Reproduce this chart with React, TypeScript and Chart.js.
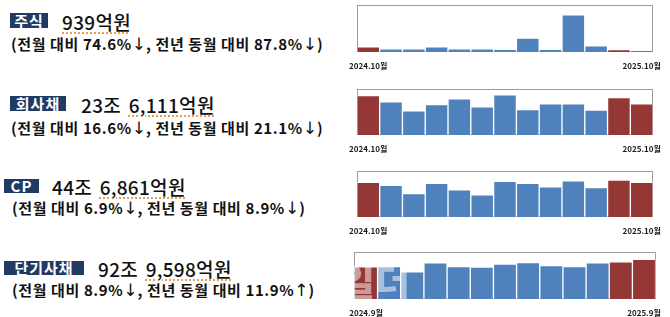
import React, { useEffect, useRef } from 'react';
import { Chart, registerables } from 'chart.js';

Chart.register(...registerables);

// ---- data ----
const monthsOct = ['2024.10월', '2024.11월', '2024.12월', '2025.1월', '2025.2월', '2025.3월', '2025.4월', '2025.5월', '2025.6월', '2025.7월', '2025.8월', '2025.9월', '2025.10월'];
const monthsSep = ['2024.9월', '2024.10월', '2024.11월', '2024.12월', '2025.1월', '2025.2월', '2025.3월', '2025.4월', '2025.5월', '2025.6월', '2025.7월', '2025.8월', '2025.9월'];

// 억원
const stockValues = [7697, 4900, 4900, 7800, 4900, 4900, 3900, 20600, 3900, 55400, 9300, 3697, 939];
const corpBondValues = [299254, 251200, 183400, 231100, 273800, 213500, 304000, 193400, 236100, 236100, 188400, 283107, 236111];
const cpValues = [447000, 408600, 302200, 434100, 349000, 285200, 459600, 434100, 387300, 463900, 378800, 474000, 446861];
const stbValues = [753000, 760600, 637700, 845100, 760600, 745300, 814400, 852800, 783700, 760600, 845100, 868200, 929598];

const highlightIndex = [0, 11, 12];

const stockMax = 70000;
const corpBondMax = 349000;
const cpMax = 592000;
const stbMax = 1100000;

const BLUE = '#4F81BD';
const RED = '#953735';
const FONT = '"Noto Sans CJK KR", "Noto Sans", sans-serif';

const framePlugin = {
  id: 'frameBox',
  beforeDatasetsDraw(chart: any) {
    const { ctx, chartArea: a } = chart;
    ctx.save();
    ctx.strokeStyle = '#9c9c9c';
    ctx.lineWidth = 1;
    const l = Math.round(a.left) + 0.5;
    const t = Math.round(a.top) + 0.5;
    const r = Math.round(a.right) - 0.5;
    const b = Math.round(a.bottom) - 0.5;
    ctx.strokeRect(l, t, r - l, b - t);
    ctx.restore();
  },
};

type MiniProps = {
  top: number;
  frameTop: number;
  frameBottom: number;
  labels: string[];
  values: number[];
  max: number;
};

const AXIS_H = 18;

function MiniBar({ top, frameTop, frameBottom, labels, values, max }: MiniProps) {
  const ref = useRef<HTMLCanvasElement>(null);
  const height = frameBottom - top + AXIS_H;
  useEffect(() => {
    if (!ref.current) return;
    const colors = values.map((_, i) => (highlightIndex.includes(i) ? RED : BLUE));
    const chart = new Chart(ref.current, {
      type: 'bar',
      data: {
        labels,
        datasets: [
          {
            data: values,
            backgroundColor: colors,
            borderColor: 'rgba(255,255,255,0.55)',
            borderWidth: 1,
            categoryPercentage: 1,
            barPercentage: 1,
          },
        ],
      },
      options: {
        responsive: false,
        animation: false,
        devicePixelRatio: 1,
        layout: { padding: { left: 13, right: 7, top: frameTop - top, bottom: 0 } },
        plugins: { legend: { display: false }, tooltip: { enabled: false } },
        scales: {
          x: {
            grid: { display: false, drawTicks: false },
            border: { display: false },
            afterFit: (scale: any) => {
              scale.height = AXIS_H;
            },
            ticks: {
              autoSkip: false,
              maxRotation: 0,
              minRotation: 0,
              padding: 9,
              color: '#1a1a1a',
              font: { family: FONT, size: 8, weight: 'bold' },
              callback: (_v: any, i: number) => (i === 0 || i === labels.length - 1 ? labels[i] : ''),
            },
          },
          y: { display: false, min: 0, max },
        },
      },
      plugins: [framePlugin],
    });
    return () => chart.destroy();
  }, []);
  return (
    <canvas
      ref={ref}
      width={330}
      height={height}
      style={{ position: 'absolute', left: 340, top, width: 330, height }}
    />
  );
}

type PanelText = {
  tag: string;
  tagLeft: number;
  tagTop: number;
  tagW: number;
  tagH: number;
  prefix: string;
  amount: string;
  numLeft: number;
  numCenter: number;
  sub: string;
  subLeft: number;
  subCenter: number;
};

const panels: PanelText[] = [
  { tag: '주식', tagLeft: 10, tagTop: 13, tagW: 38, tagH: 15, prefix: '', amount: '939억원', numLeft: 62, numCenter: 21.5, sub: '(전월 대비 74.6%↓, 전년 동월 대비 87.8%↓)', subLeft: 11, subCenter: 44 },
  { tag: '회사채', tagLeft: 10, tagTop: 96, tagW: 56, tagH: 15, prefix: '23조 ', amount: '6,111억원', numLeft: 81, numCenter: 105, sub: '(전월 대비 16.6%↓, 전년 동월 대비 21.1%↓)', subLeft: 11, subCenter: 127.5 },
  { tag: 'CP', tagLeft: 4, tagTop: 179, tagW: 35, tagH: 14, prefix: '44조 ', amount: '6,861억원', numLeft: 52, numCenter: 186.5, sub: '(전월 대비 6.9%↓, 전년 동월 대비 8.9%↓)', subLeft: 12, subCenter: 208 },
  { tag: '단기사채', tagLeft: 4, tagTop: 261, tagW: 80, tagH: 14, prefix: '92조 ', amount: '9,598억원', numLeft: 98, numCenter: 268.5, sub: '(전월 대비 8.9%↓, 전년 동월 대비 11.9%↑)', subLeft: 12, subCenter: 290 },
];

function renderSub(s: string) {
  return s.split(/([↓↑])/).map((part, i) =>
    part === '↓' || part === '↑' ? (
      <span key={i} style={{ fontWeight: 400, fontFamily: '"DejaVu Sans", sans-serif', fontSize: 17, letterSpacing: 0 }}>{part}</span>
    ) : (
      <React.Fragment key={i}>{part}</React.Fragment>
    )
  );
}

export default function App() {
  return (
    <div style={{ position: 'absolute', left: 0, top: 0, width: 670, height: 317, background: '#fff', overflow: 'hidden', fontFamily: FONT }}>
      {panels.map((p, i) => (
        <React.Fragment key={i}>
          <div
            style={{
              position: 'absolute', left: p.tagLeft, top: p.tagTop, width: p.tagW, height: p.tagH,
              background: '#1F3A63', color: '#fff', fontSize: 15, fontWeight: 700,
              lineHeight: p.tagH + 'px', textAlign: 'center', letterSpacing: 1, whiteSpace: 'nowrap',
            }}
          >
            {p.tag}
          </div>
          <div
            style={{
              position: 'absolute', left: p.numLeft, top: p.numCenter - 12, height: 24, lineHeight: '24px',
              fontSize: 19, fontWeight: 500, color: '#111', whiteSpace: 'nowrap', letterSpacing: 0.3, wordSpacing: 3,
            }}
          >
            {p.prefix}
            <span style={{ textDecoration: 'underline dotted #E89A4A', textUnderlineOffset: 3 }}>{p.amount}</span>
          </div>
          <div
            style={{
              position: 'absolute', left: p.subLeft, top: p.subCenter - 10, height: 20, lineHeight: '20px',
              fontSize: 15, fontWeight: 700, color: '#111', whiteSpace: 'nowrap', letterSpacing: 0.6,
            }}
          >
            {renderSub(p.sub)}
          </div>
        </React.Fragment>
      ))}
      <MiniBar top={0} frameTop={5} frameBottom={52} labels={monthsOct} values={stockValues} max={stockMax} />
      <MiniBar top={80} frameTop={89} frameBottom={135} labels={monthsOct} values={corpBondValues} max={corpBondMax} />
      <MiniBar top={160} frameTop={171} frameBottom={217} labels={monthsOct} values={cpValues} max={cpMax} />
      <MiniBar top={237} frameTop={252} frameBottom={299} labels={monthsSep} values={stbValues} max={stbMax} />
      <div
        style={{
          position: 'absolute', left: 340, top: 258, fontSize: 38, fontWeight: 900,
          color: 'rgba(255,255,255,0.5)', lineHeight: '44px', whiteSpace: 'nowrap', pointerEvents: 'none',
        }}
      >
        일더
      </div>
    </div>
  );
}
